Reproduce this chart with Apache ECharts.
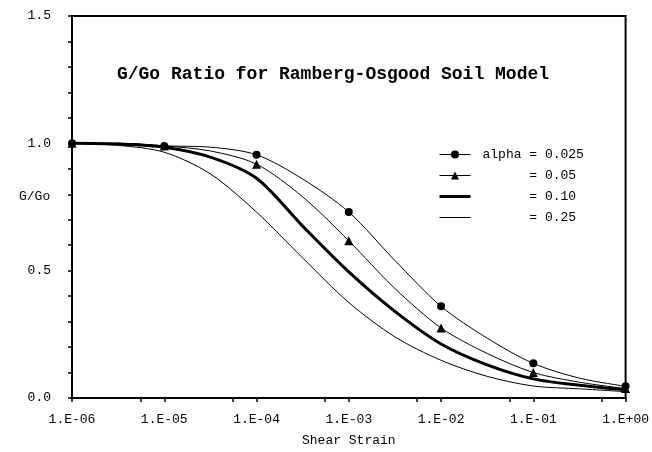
<!DOCTYPE html>
<html>
<head>
<meta charset="utf-8">
<script src="https://cdn.jsdelivr.net/npm/echarts@6/dist/echarts.min.js"></script>
<style>html,body{margin:0;padding:0;background:#fff}#c{width:652px;height:452px}</style>
</head>
<body>
<div id="c"></div>
<script>
const strain = [1e-6, 3.16e-6, 1e-5, 3.16e-5, 1e-4, 3.16e-4, 1e-3, 3.16e-3, 1e-2, 3.16e-2, 1e-1, 3.16e-1, 1];
const alpha025 = [1.0, 1.0, 0.99, 0.985, 0.955, 0.86, 0.73, 0.54, 0.36, 0.235, 0.136, 0.078, 0.046];
const alpha05  = [1.0, 1.0, 0.99, 0.97, 0.918, 0.79, 0.617, 0.43, 0.275, 0.175, 0.1, 0.062, 0.037];
const alpha10  = [1.0, 0.997, 0.985, 0.946, 0.863, 0.675, 0.495, 0.34, 0.212, 0.13, 0.075, 0.05, 0.032];
const alpha25  = [1.0, 0.992, 0.965, 0.88, 0.73, 0.55, 0.375, 0.24, 0.148, 0.085, 0.047, 0.036, 0.025];
const seriesNames = ['alpha = 0.025', '      = 0.05', '      = 0.10', '      = 0.25'];
const xTickLabels = {'-6':'1.E-06','-5':'1.E-05','-4':'1.E-04','-3':'1.E-03','-2':'1.E-02','-1':'1.E-01','0':'1.E+00'};
const title = 'G/Go Ratio for Ramberg-Osgood Soil Model';
const xName = 'Shear Strain';
const yName = 'G/Go';

const mono = '"Liberation Mono", "DejaVu Sans Mono", monospace';

function build(vals, markDecades) {
  return strain.map((x, i) => {
    const item = {value: [x, vals[i]]};
    if (markDecades && i % 2 === 1) item.symbol = 'none';
    return item;
  });
}

const chart = echarts.init(document.getElementById('c'));
chart.setOption({
  animation: false,
  backgroundColor: '#fff',
  title: {
    text: title, left: 328, top: 60, textAlign: 'center',
    textStyle: {fontFamily: mono, fontSize: 18, fontWeight: 'bold', color: '#000'}
  },
  graphic: [{
    type: 'text', left: 19, top: 190,
    style: {text: yName, font: '13px ' + mono, fill: '#000'}
  }],
  grid: {left: 72, right: 26, top: 16, bottom: 47, show: true, borderColor: '#000', borderWidth: 2, backgroundColor: 'transparent'},
  legend: {
    orient: 'vertical', left: 433, top: 143, itemWidth: 31, itemHeight: 10, itemGap: 8,
    textStyle: {fontFamily: mono, fontSize: 13, color: '#000', padding: [0, 0, 0, 7]},
    data: [
      {name: seriesNames[0], lineStyle: {width: 1}},
      {name: seriesNames[1], lineStyle: {width: 1}},
      {name: seriesNames[2], lineStyle: {width: 3}, itemStyle: {opacity: 0}},
      {name: seriesNames[3], lineStyle: {width: 1}, itemStyle: {opacity: 0}}
    ]
  },
  xAxis: {
    type: 'log', logBase: 10, min: 1e-6, max: 1,
    name: xName, nameLocation: 'middle', nameGap: 36,
    nameTextStyle: {fontFamily: mono, fontSize: 13, color: '#000'},
    axisLine: {lineStyle: {color: '#000', width: 2}},
    axisTick: {length: 4, lineStyle: {color: '#000', width: 1.5}},
    minorTick: {show: true, splitNumber: 2, length: 4, lineStyle: {color: '#000', width: 1.5}},
    splitLine: {show: false},
    axisLabel: {
      fontFamily: mono, fontSize: 13, color: '#000', margin: 15,
      formatter: v => xTickLabels[String(Math.round(Math.log10(v)))] || ''
    }
  },
  yAxis: {
    type: 'value', min: 0, max: 1.5, interval: 0.5,
    axisLine: {show: true, lineStyle: {color: '#000', width: 2}},
    axisTick: {show: true, length: 4, lineStyle: {color: '#000', width: 1.5}},
    minorTick: {show: true, splitNumber: 5, length: 4, lineStyle: {color: '#000', width: 1.5}},
    splitLine: {show: false},
    axisLabel: {fontFamily: mono, fontSize: 13, color: '#000', margin: 21, formatter: v => v.toFixed(1)}
  },
  series: [
    {name: seriesNames[0], type: 'line', smooth: 0.3, symbol: 'circle', symbolSize: 8,
     itemStyle: {color: '#000'}, lineStyle: {color: '#000', width: 1}, data: build(alpha025, true)},
    {name: seriesNames[1], type: 'line', smooth: 0.3, symbol: 'triangle', symbolSize: 9,
     itemStyle: {color: '#000'}, lineStyle: {color: '#000', width: 1}, data: build(alpha05, true)},
    {name: seriesNames[2], type: 'line', smooth: 0.3, symbol: 'none',
     itemStyle: {color: '#000'}, lineStyle: {color: '#000', width: 3}, data: build(alpha10, false)},
    {name: seriesNames[3], type: 'line', smooth: 0.3, symbol: 'none',
     itemStyle: {color: '#000'}, lineStyle: {color: '#000', width: 1}, data: build(alpha25, false)}
  ]
});
</script>
</body>
</html>
